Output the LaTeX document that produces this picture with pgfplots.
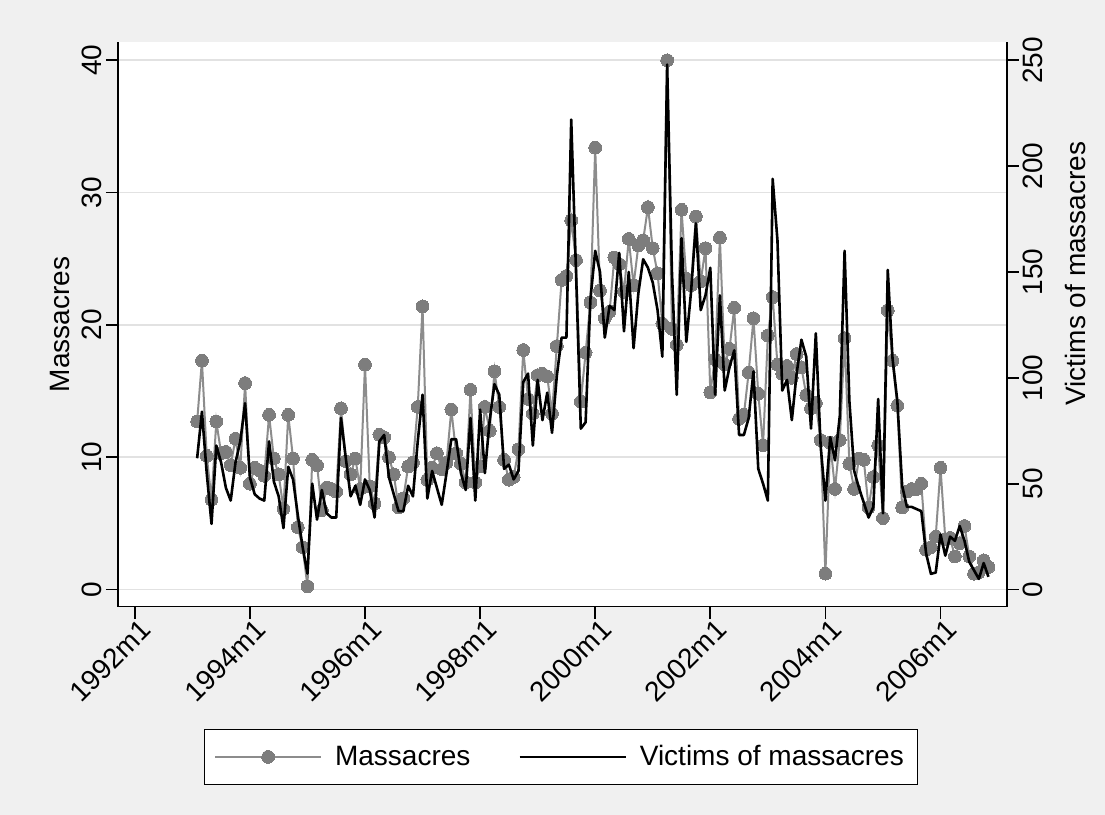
\documentclass[border=0pt]{standalone}
\usepackage{pgfplots}
\pgfplotsset{compat=1.18}
\usepackage{pgfplotstable}
\usepackage{fontspec}
\setmainfont{Liberation Sans}
\definecolor{bgc}{RGB}{240,240,240}
\definecolor{gridc}{RGB}{226,226,226}
\definecolor{mgray}{RGB}{125,125,125}
\definecolor{lgray}{RGB}{140,140,140}

\pgfplotstableread{
m M V
13 12.7 62
14 17.3 84
15 10.1 55
16 6.8 31
17 12.7 68
18 10.3 60
19 10.4 48
20 9.4 42
21 11.4 60
22 9.2 70
23 15.6 88
24 8.0 53
25 9.2 45
26 9.0 43
27 8.6 42
28 13.2 70
29 9.9 51
30 8.7 44
31 6.1 29
32 13.2 58
33 9.9 52
34 4.7 35
35 3.2 20
36 0.25 7.5
37 9.8 50
38 9.4 33
39 6.0 47
40 7.7 36
41 7.6 34
42 7.4 34
43 13.7 81
44 9.7 62
45 8.7 44
46 9.9 49
47 7.6 40
48 17.0 52
49 7.8 47
50 6.5 34
51 11.7 70
52 11.5 73
53 10.0 53
54 8.7 45
55 6.2 37
56 6.9 37
57 9.3 49
58 9.6 44
59 13.8 70
60 21.4 92
61 8.3 43
62 9.2 56
63 10.3 48
64 9.1 40
65 9.6 55
66 13.6 71
67 10.3 71
68 9.5 55
69 8.1 47
70 15.1 81
71 8.1 42
72 9.3 85
73 13.8 55
74 12.0 80
75 16.5 97
76 13.8 92
77 9.8 57
78 8.3 59
79 8.5 52
80 10.6 56
81 18.1 98
82 14.4 102
83 13.3 68
84 16.2 99
85 16.3 80
86 16.1 93
87 13.3 74
88 18.4 101
89 23.4 119
90 23.7 119
91 27.9 222
92 24.9 150
93 14.2 76
94 17.9 79
95 21.7 137
96 33.4 160
97 22.6 150
98 20.5 119
99 21.0 134
100 25.1 132
101 24.6 159
102 22.5 122
103 26.5 150
104 23.0 114
105 26.0 140
106 26.4 156
107 28.9 152
108 25.8 145
109 23.9 132
110 20.1 110
111 40.0 248
112 19.7 150
113 18.5 92
114 28.7 166
115 23.5 117
116 23.0 141
117 28.2 173
118 23.3 132
119 25.8 139
120 14.9 152
121 17.4 92
122 26.6 139
123 17.0 94
124 18.2 105
125 21.3 113
126 12.9 73
127 13.2 73
128 16.4 81
129 20.5 103
130 14.8 57
131 10.9 50
132 19.2 42
133 22.1 194
134 17.0 165
135 16.3 94
136 16.9 99
137 16.0 80
138 17.8 102
139 16.8 118
140 14.7 110
141 13.7 76
142 14.1 121
143 11.3 68
144 1.2 42
145 11.1 72
146 7.6 61
147 11.3 82
148 19.0 160
149 9.5 89
150 7.6 56
151 9.9 48
152 9.8 41
153 6.2 34
154 8.5 39
155 10.9 90
156 5.4 36
157 21.1 151
158 17.3 109
159 13.9 89
160 6.2 49
161 7.4 39
162 7.6 39
163 7.6 38
164 8.0 37
165 3.0 17
166 3.2 7.4
167 4.0 8
168 9.2 26
169 3.8 16
170 3.9 25
171 2.5 23
172 3.5 30
173 4.8 23
174 2.5 13
175 1.2 9
176 1.3 5
177 2.2 12.5
178 1.7 6
}\data

\pgfplotsset{
  common/.style={
    at={(59pt,104.15pt)}, anchor=south west,
    scale only axis, width=444.35pt, height=282.35pt,
    xmin=-3.5, xmax=181.8,
    tick align=outside,
    major tick length=6pt,
    every tick/.style={black, line width=0.9pt},
    axis line style={black, line width=0.8pt},
    tick label style={font=\fontsize{14}{16}\selectfont},
    label style={font=\fontsize{14}{16}\selectfont},
    /pgf/number format/assume math mode=true,
    clip=false,
  }
}

\begin{document}
\begin{tikzpicture}
\fill[bgc] (0,0) rectangle (552.5pt,407.5pt);
\begin{axis}[common,
  ymin=-1.3, ymax=41.383,
  axis x line*=bottom, axis y line*=left,
  axis background/.style={fill=white},
  xtick={0,24,...,168},
  xticklabels={1992m1,1994m1,1996m1,1998m1,2000m1,2002m1,2004m1,2006m1},
  xticklabel style={rotate=45, anchor=north east, inner sep=1pt, xshift=3pt},
  ytick={0,10,20,30,40},
  yticklabel style={rotate=90, anchor=south, inner sep=2pt},
  ymajorgrids, grid style={gridc, line width=0.8pt},
  ylabel={Massacres},
  ylabel style={at={(axis description cs:-0.0653,0.5)}, anchor=center},
]
\addplot[color=lgray, line width=1pt, mark=*, mark size=3.2pt,
  mark options={fill=mgray, draw=mgray, line width=0pt}] table[x=m,y=M]{\data};
\end{axis}
\begin{axis}[common,
  ymin=-8.125, ymax=258.64,
  axis y line*=right, axis x line=none,
  ytick={0,50,...,250},
  yticklabel style={rotate=90, anchor=north, inner sep=2pt},
  ylabel={Victims of massacres},
  ylabel style={at={(axis description cs:1.077,0.59)}, anchor=center, rotate=0},
  legend style={at={(0.4985,-0.266)}, anchor=center, legend columns=2,
    draw=black, line width=0.6pt, fill=white,
    font=\fontsize{14}{16}\selectfont,
    /tikz/every even column/.append style={column sep=22pt},
    /tikz/every odd column/.append style={column sep=4.5pt},
    inner xsep=5pt, inner ysep=6pt},
  legend image code/.code={\draw[mark repeat=2,mark phase=2,#1] plot coordinates {(0cm,0cm) (0.93cm,0cm) (1.86cm,0cm)};},
]
\addlegendimage{color=lgray, line width=1pt, mark=*, mark size=3.2pt, mark options={fill=mgray, draw=mgray, line width=0pt}}
\addlegendentry{Massacres}
\addplot[black, line width=1.3pt, line join=round, no markers] table[x=m,y=V]{\data};
\addlegendentry{Victims of massacres}
\end{axis}
\pgfresetboundingbox
\useasboundingbox (0,0) rectangle (552.5pt,407.5pt);
\end{tikzpicture}
\end{document}
